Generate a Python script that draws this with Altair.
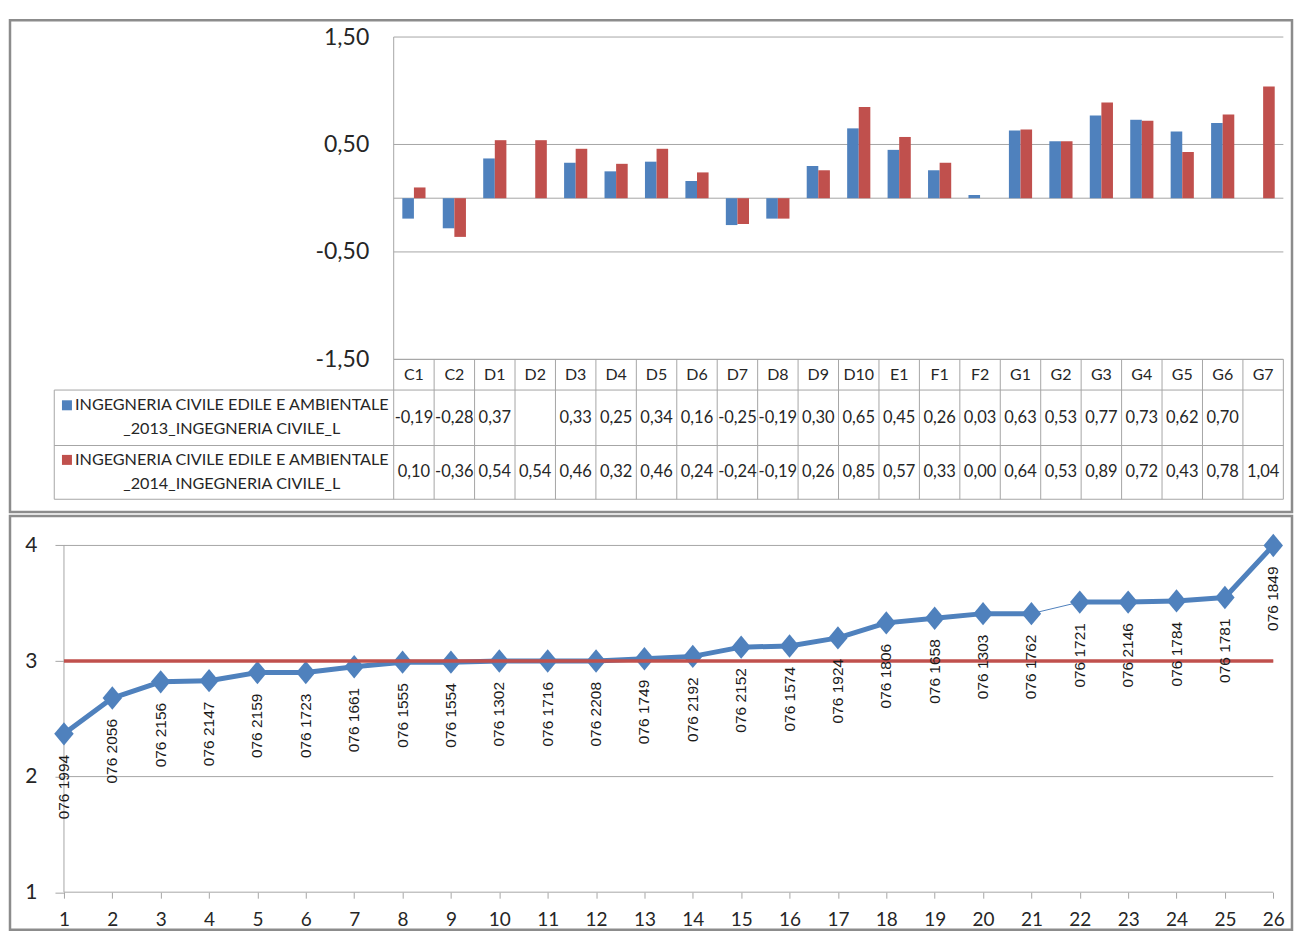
import altair as alt
import pandas as pd

# ---------------- data ----------------
categories = ["C1", "C2", "D1", "D2", "D3", "D4", "D5", "D6", "D7", "D8", "D9",
              "D10", "E1", "F1", "F2", "G1", "G2", "G3", "G4", "G5", "G6", "G7"]
values_2013 = [-0.19, -0.28, 0.37, None, 0.33, 0.25, 0.34, 0.16, -0.25, -0.19, 0.30,
               0.65, 0.45, 0.26, 0.03, 0.63, 0.53, 0.77, 0.73, 0.62, 0.70, None]
values_2014 = [0.10, -0.36, 0.54, 0.54, 0.46, 0.32, 0.46, 0.24, -0.24, -0.19, 0.26,
               0.85, 0.57, 0.33, 0.00, 0.64, 0.53, 0.89, 0.72, 0.43, 0.78, 1.04]
series_names = ["INGEGNERIA CIVILE EDILE E AMBIENTALE\n_2013_INGEGNERIA CIVILE_L",
                "INGEGNERIA CIVILE EDILE E AMBIENTALE\n_2014_INGEGNERIA CIVILE_L"]
series_colors = ["#4F81BD", "#C0504D"]
bar_ticks = [1.5, 0.5, -0.5, -1.5]

rank = list(range(1, 27))
scores = [2.37, 2.68, 2.82, 2.83, 2.90, 2.90, 2.95, 2.99, 2.99, 3.00, 3.00, 3.00, 3.02,
          3.04, 3.12, 3.13, 3.20, 3.33, 3.37, 3.41, 3.41, 3.51, 3.51, 3.52, 3.55, 4.00]
codes = ["076 1994", "076 2056", "076 2156", "076 2147", "076 2159", "076 1723",
         "076 1661", "076 1555", "076 1554", "076 1302", "076 1716", "076 2208",
         "076 1749", "076 2192", "076 2152", "076 1574", "076 1924", "076 1806",
         "076 1658", "076 1303", "076 1762", "076 1721", "076 2146", "076 1784",
         "076 1781", "076 1849"]
line_ticks = [1, 2, 3, 4]
threshold = 3

# ---------------- layout constants ----------------
PANEL_W = 1283
TOP_H = 492
BOT_H = 414
GRID = "#a6a6a6"
TXT = "#262626"
FONT = "Lato"

N = len(categories)
COL_PX = 40.47          # width of one category column
AXIS_PX = 384           # value axis distance from panel left
x_dom_top = [-AXIS_PX / COL_PX, (PANEL_W - AXIS_PX) / COL_PX]
VAL_PX = 107.53         # px per value unit
bar_top = 1.5 + 16.7 / VAL_PX
y_dom_bar = [bar_top - TOP_H / VAL_PX, bar_top]
ROW_PX = 55.0
tab_top = -339.3 / ROW_PX
y_dom_tab = [tab_top + TOP_H / ROW_PX, tab_top]   # reversed: grows downward
BW = 11.6 / COL_PX
HEAD_B, ROW1_B, ROW2_B = 0.558, 1.567, 2.545
LEG_L = -8.394
row_centers = [(HEAD_B + ROW1_B) / 2, (ROW1_B + ROW2_B) / 2]

xs_top = alt.Scale(domain=x_dom_top, nice=False, zero=False)
ys_bar = alt.Scale(domain=y_dom_bar, nice=False, zero=False)
ys_tab = alt.Scale(domain=y_dom_tab, nice=False, zero=False)

bar_axis = alt.Axis(values=bar_ticks, offset=-AXIS_PX, ticks=False, domain=False, grid=False,
                    labelPadding=25, labelFontSize=23, labelFont=FONT, labelColor=TXT,
                    labelExpr="replace(replace(format(datum.value, '.2f'), '.', ','), '\u2212', '-')",
                    title=None)


def comma(v):
    return f"{v:.2f}".replace(".", ",")


# ---------------- top panel data ----------------
bar_rows, cell_rows = [], []
for s, vals in enumerate([values_2013, values_2014]):
    for i, (c, v) in enumerate(zip(categories, vals)):
        if v is None:
            continue
        x0 = i + 0.5 - BW if s == 0 else i + 0.5
        bar_rows.append({"cat": c, "series": series_names[s], "value": v, "x0": x0, "x1": x0 + BW})
        cell_rows.append({"x": i + 0.5, "y": row_centers[s], "label": comma(v)})
bars_df = pd.DataFrame(bar_rows)
cells_df = pd.DataFrame(cell_rows)
grid_df = pd.DataFrame({"y": bar_ticks + [0], "x0": 0, "x1": N})
vaxis_df = pd.DataFrame({"x": [0], "y": [bar_ticks[0]], "y2": [bar_ticks[-1]]})
head_df = pd.DataFrame({"x": [i + 0.5 for i in range(N)], "y": HEAD_B / 2, "label": categories})
hl_df = pd.DataFrame({"x0": [0, LEG_L, LEG_L, LEG_L], "x1": N, "y": [0, HEAD_B, ROW1_B, ROW2_B]})
vl_df = pd.DataFrame({"x": [LEG_L] + list(range(N + 1)),
                      "y0": [HEAD_B] + [0] * (N + 1), "y1": ROW2_B})
leg_df = pd.DataFrame({"series": series_names,
                       "y": [r - 12.5 / ROW_PX for r in row_centers],
                       "xt": -162 / COL_PX, "xs": -327 / COL_PX})

color_enc = alt.Color("series:N", scale=alt.Scale(domain=series_names, range=series_colors), legend=None)

grid = alt.Chart(grid_df).mark_rule(color=GRID, strokeWidth=1).encode(
    x=alt.X("x0:Q", scale=xs_top, axis=None), x2="x1:Q",
    y=alt.Y("y:Q", scale=ys_bar, axis=bar_axis))
vaxis = alt.Chart(vaxis_df).mark_rule(color=GRID, strokeWidth=1).encode(
    x=alt.X("x:Q", scale=xs_top, axis=None),
    y=alt.Y("y:Q", scale=ys_bar, axis=bar_axis), y2="y2:Q")
bars = alt.Chart(bars_df).mark_bar().encode(
    x=alt.X("x0:Q", scale=xs_top, axis=None), x2="x1:Q",
    y=alt.Y("value:Q", scale=ys_bar, axis=bar_axis), y2=alt.datum(0),
    color=color_enc)
bar_group = alt.layer(grid, vaxis, bars)

hl = alt.Chart(hl_df).mark_rule(color=GRID, strokeWidth=1).encode(
    x=alt.X("x0:Q", scale=xs_top, axis=None), x2="x1:Q",
    y=alt.Y("y:Q", scale=ys_tab, axis=None))
vl = alt.Chart(vl_df).mark_rule(color=GRID, strokeWidth=1).encode(
    x=alt.X("x:Q", scale=xs_top, axis=None),
    y=alt.Y("y0:Q", scale=ys_tab, axis=None), y2="y1:Q")
head = alt.Chart(head_df).mark_text(font=FONT, fontSize=16, color=TXT).encode(
    x=alt.X("x:Q", scale=xs_top, axis=None), y=alt.Y("y:Q", scale=ys_tab, axis=None), text="label:N")
cells = alt.Chart(cells_df).mark_text(font=FONT, fontSize=16.5, color=TXT).encode(
    x=alt.X("x:Q", scale=xs_top, axis=None), y=alt.Y("y:Q", scale=ys_tab, axis=None), text="label:N")
leg_text = alt.Chart(leg_df).mark_text(font=FONT, fontSize=16.2, color=TXT, lineBreak="\n",
                                       lineHeight=24, baseline="middle").encode(
    x=alt.X("xt:Q", scale=xs_top, axis=None), y=alt.Y("y:Q", scale=ys_tab, axis=None), text="series:N")
leg_sw = alt.Chart(leg_df).mark_square(size=100, opacity=1).encode(
    x=alt.X("xs:Q", scale=xs_top, axis=None), y=alt.Y("y:Q", scale=ys_tab, axis=None),
    color=color_enc)
table_group = alt.layer(hl, vl, head, cells, leg_text, leg_sw)

top = alt.layer(bar_group, table_group).resolve_scale(y="independent").properties(
    width=PANEL_W, height=TOP_H)

# ---------------- bottom panel ----------------
LX_PX = 48.41
LY_PX = 115.67
LEFT1_PX = 54.0                     # distance of x = 1 from the panel left
TOP4_PX = 29.5                      # distance of the "4" gridline from the panel top
Y1_PX = TOP4_PX + 3 * LY_PX         # distance of the "1" axis line from the panel top
xs_bot = alt.Scale(domain=[1 - LEFT1_PX / LX_PX, 1 + (PANEL_W - LEFT1_PX) / LX_PX],
                   nice=False, zero=False)
l_top = 4 + TOP4_PX / LY_PX
ys_bot = alt.Scale(domain=[l_top - BOT_H / LY_PX, l_top], nice=False, zero=False)
x_axis = alt.Axis(values=rank, offset=-(BOT_H - Y1_PX), format="d", domain=False, grid=False,
                  tickSize=6, tickColor=GRID, labelPadding=12, labelFontSize=19, labelFont=FONT,
                  labelColor=TXT, title=None, labelAngle=0)
y_axis = alt.Axis(values=line_ticks, offset=-LEFT1_PX, format="d", domain=False, grid=False,
                  tickSize=9, tickColor=GRID, labelPadding=18, labelFontSize=21, labelFont=FONT,
                  labelColor=TXT, title=None)

lgrid_df = pd.DataFrame({"y": line_ticks, "x0": rank[0], "x1": rank[-1]})
laxis_df = pd.DataFrame({"x": [rank[0]], "y0": [line_ticks[0]], "y1": [line_ticks[-1]]})
pts_df = pd.DataFrame({"rank": rank, "score": scores, "code": codes})
seg_df = pd.DataFrame({"x0": rank[:-1], "x1": rank[1:], "y0": scores[:-1], "y1": scores[1:],
                       "w": [1 if k == 20 else 5 for k in range(len(rank) - 1)]})
thr_df = pd.DataFrame({"y": [threshold], "x0": [rank[0]], "x1": [rank[-1]]})

lgrid = alt.Chart(lgrid_df).mark_rule(color=GRID, strokeWidth=1).encode(
    x=alt.X("x0:Q", scale=xs_bot, axis=x_axis), x2="x1:Q",
    y=alt.Y("y:Q", scale=ys_bot, axis=y_axis))
laxis = alt.Chart(laxis_df).mark_rule(color=GRID, strokeWidth=1).encode(
    x=alt.X("x:Q", scale=xs_bot, axis=x_axis),
    y=alt.Y("y0:Q", scale=ys_bot, axis=y_axis), y2="y1:Q")
segs = alt.Chart(seg_df).mark_rule(color="#4F81BD", strokeCap="round").encode(
    x=alt.X("x0:Q", scale=xs_bot, axis=x_axis), x2="x1:Q",
    y=alt.Y("y0:Q", scale=ys_bot, axis=y_axis), y2="y1:Q",
    strokeWidth=alt.StrokeWidth("w:Q", scale=None))
diamonds = alt.Chart(pts_df).mark_point(
    shape="M-1,0L0,-1.2L1,0L0,1.2Z", filled=True, size=380, color="#4F81BD", opacity=1).encode(
    x=alt.X("rank:Q", scale=xs_bot, axis=x_axis),
    y=alt.Y("score:Q", scale=ys_bot, axis=y_axis))
thr = alt.Chart(thr_df).mark_rule(color="#C0504D", strokeWidth=3.5).encode(
    x=alt.X("x0:Q", scale=xs_bot, axis=x_axis), x2="x1:Q",
    y=alt.Y("y:Q", scale=ys_bot, axis=y_axis))
labels = alt.Chart(pts_df).mark_text(angle=270, align="right", baseline="middle", dx=-21,
                                     font="Liberation Sans", fontSize=15.5, color="#1a1a1a").encode(
    x=alt.X("rank:Q", scale=xs_bot, axis=x_axis),
    y=alt.Y("score:Q", scale=ys_bot, axis=y_axis), text="code:N")

bottom = alt.layer(lgrid, laxis, segs, diamonds, thr, labels).properties(
    width=PANEL_W, height=BOT_H)

chart = alt.vconcat(top, bottom, spacing=0).properties(
    padding={"left": 0, "top": 10, "right": 0, "bottom": 0},
    background="white",
).configure_view(stroke="#8c8c8c", strokeWidth=2.5)

chart.save("out.html", embed_options={"renderer": "svg", "actions": False})
